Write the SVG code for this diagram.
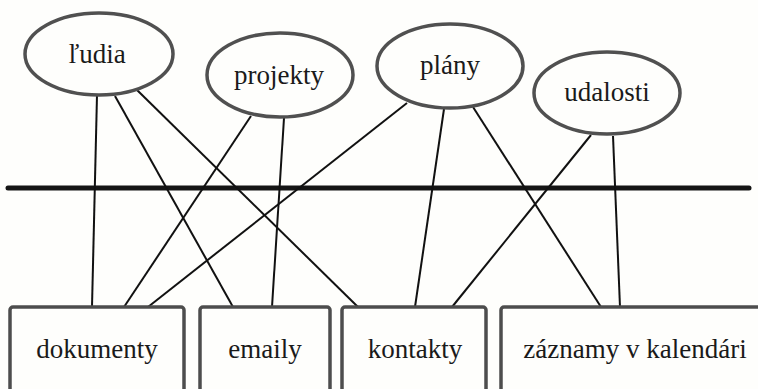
<svg xmlns="http://www.w3.org/2000/svg" width="758" height="389" viewBox="0 0 758 389">
  <style>
    .ell { fill: none; stroke: #505050; stroke-width: 3.5; }
    .box { fill: none; stroke: #4d4d4d; stroke-width: 3.5; }
    .link { stroke: #111; stroke-width: 2; fill: none; }
  </style>
  <rect width="758" height="389" fill="#fefefc"/>
  <line x1="8" y1="188" x2="749" y2="188" stroke="#151515" stroke-width="5" stroke-linecap="round"/>
  <g id="connectors">
    <line class="link" x1="97" y1="95" x2="92" y2="307"/>
    <line class="link" x1="115" y1="96" x2="233" y2="307"/>
    <line class="link" x1="137" y1="90" x2="358" y2="307"/>
    <line class="link" x1="251" y1="116" x2="124" y2="307"/>
    <line class="link" x1="284" y1="118" x2="272" y2="307"/>
    <line class="link" x1="407" y1="103" x2="148" y2="307"/>
    <line class="link" x1="444" y1="109" x2="415" y2="307"/>
    <line class="link" x1="473" y1="107" x2="601" y2="307"/>
    <line class="link" x1="591" y1="135" x2="452" y2="307"/>
    <line class="link" x1="613" y1="136" x2="620" y2="307"/>
  </g>
  <g id="ludia">
    <ellipse class="ell" cx="99" cy="54" rx="74" ry="41"/>
    <text x="97" y="63" font-family="Liberation Serif" font-size="27" fill="#1a1a1a" text-anchor="middle">ľudia</text>
  </g>
  <g id="projekty">
    <ellipse class="ell" cx="280" cy="75" rx="73" ry="42"/>
    <text x="279" y="84" font-family="Liberation Serif" font-size="27" fill="#1a1a1a" text-anchor="middle">projekty</text>
  </g>
  <g id="plany">
    <ellipse class="ell" cx="450" cy="66" rx="73" ry="42"/>
    <text x="450" y="74" font-family="Liberation Serif" font-size="27" fill="#1a1a1a" text-anchor="middle">plány</text>
  </g>
  <g id="udalosti">
    <ellipse class="ell" cx="607" cy="93" rx="73" ry="41"/>
    <text x="607" y="101" font-family="Liberation Serif" font-size="27" fill="#1a1a1a" text-anchor="middle">udalosti</text>
  </g>
  <g id="dokumenty">
    <rect class="box" x="10" y="307" width="174" height="100" rx="3"/>
    <text x="97" y="358" font-family="Liberation Serif" font-size="27" fill="#1a1a1a" text-anchor="middle">dokumenty</text>
  </g>
  <g id="emaily">
    <rect class="box" x="200" y="307" width="130" height="100" rx="3"/>
    <text x="265" y="358" font-family="Liberation Serif" font-size="27" fill="#1a1a1a" text-anchor="middle">emaily</text>
  </g>
  <g id="kontakty">
    <rect class="box" x="342" y="307" width="144" height="100" rx="3"/>
    <text x="415" y="358" font-family="Liberation Serif" font-size="27" fill="#1a1a1a" text-anchor="middle">kontakty</text>
  </g>
  <g id="zaznamy">
    <rect class="box" x="501" y="307" width="280" height="100" rx="3"/>
    <text x="635" y="358" font-family="Liberation Serif" font-size="27" fill="#1a1a1a" text-anchor="middle">záznamy v kalendári</text>
  </g>
</svg>
